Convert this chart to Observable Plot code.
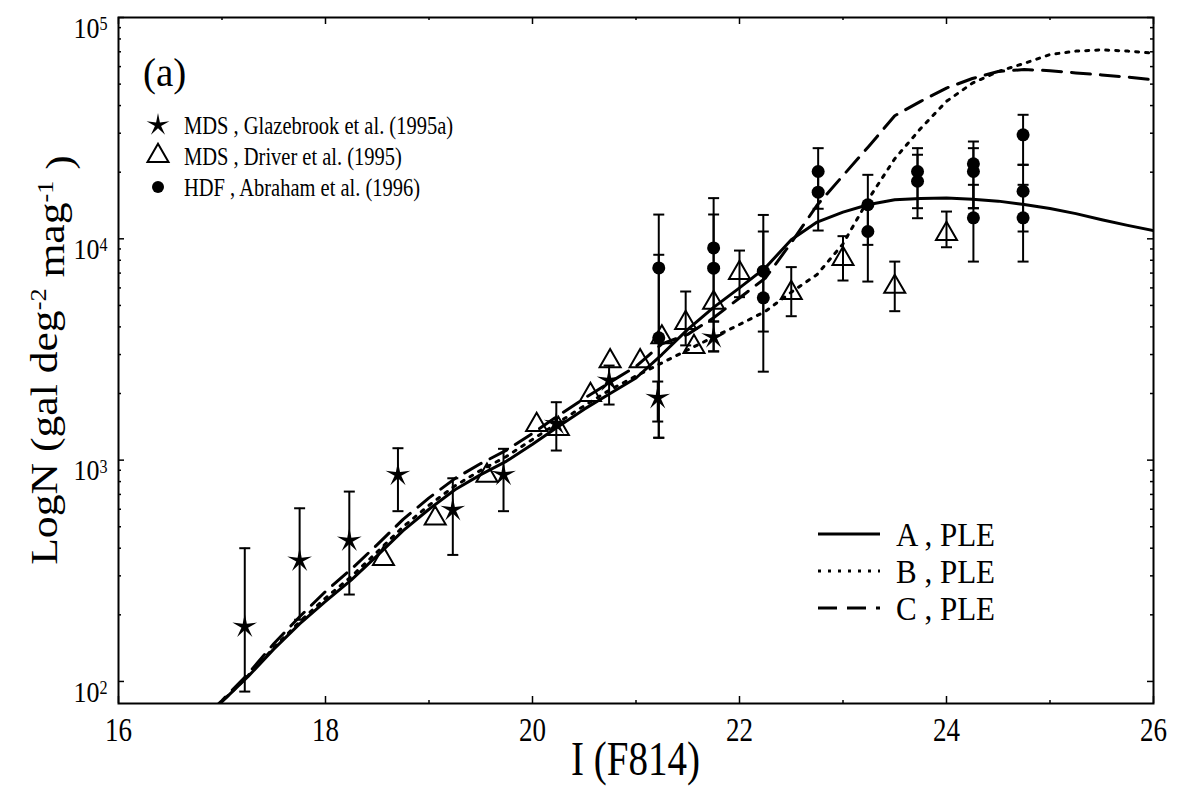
<!DOCTYPE html>
<html><head><meta charset="utf-8">
<script src="https://cdn.jsdelivr.net/npm/d3@7"></script>
<script src="https://cdn.jsdelivr.net/npm/@observablehq/plot@0.6"></script>
<style>
body{margin:0;background:#fff}
#chart{width:1181px;height:786px}
</style>
</head><body><div id="chart"></div>
<script>
// ---------- data ----------
const modelMag = [16.9,17.0,17.25,17.5,17.75,18.0,18.25,18.5,18.75,19.0,19.25,19.5,19.75,20.0,20.25,20.5,20.75,21.0,21.25,21.5,21.75,22.0,22.25,22.5,22.75,23.0,23.25,23.5,23.75,24.0,24.25,24.5,24.75,25.0,25.25,25.5,25.75,26.0];
const modelA = [74,81,105,140,182,230,288,370,480,600,735,860,990,1180,1420,1700,2000,2350,3000,3900,4900,6000,7400,9900,11900,13200,14300,15000,15200,15300,15100,14800,14300,13700,13000,12200,11500,10900];
const modelB = [73,81,106,142,186,238,298,385,500,625,765,900,1040,1240,1480,1760,2080,2400,2750,3150,3600,4100,4700,5740,6900,9490,15200,23000,31500,41800,50500,57000,62000,68000,70500,71400,70500,69000];
const modelC = [74,82,108,148,196,255,322,415,540,675,825,965,1110,1320,1590,1900,2250,2650,3350,3700,4400,5400,6650,9600,14200,19300,26200,36000,41800,48000,53000,57000,58200,57500,56200,55000,53800,52300];

// MDS, Glazebrook et al. (1995a) — stars
const starMag = [17.22,17.75,18.23,18.70,19.23,19.72,20.23,20.74,21.21,21.75];
const starN   = [177,352,433,859,596,859,1459,2290,1911,3590];
const starLo  = [90,190,247,588,373,588,1105,1783,1494,3100];
const starHi  = [400,606,721,1132,828,1125,1827,2675,2265,4230];

// MDS, Driver et al. (1995) — open triangles
const triMag = [18.56,19.06,19.56,20.04,20.25,20.56,20.75,21.04,21.25,21.48,21.56,21.75,22.0,22.5,23.0,23.5,24.0];
const triN   = [358,545,851,1443,1384,1973,2800,2800,3590,4170,3250,5140,7020,5700,8120,6070,10530];
const triLo  = [null,null,null,null,null,null,null,null,null,3300,null,null,5450,4470,6480,4710,9160];
const triHi  = [null,null,null,null,null,null,null,null,null,5780,null,null,8850,7450,10280,7890,13280];

// HDF, Abraham et al. (1996) — filled circles
const circMag = [21.22,21.22,21.75,21.75,22.23,22.23,22.76,22.76,23.24,23.24,23.72,23.72,24.26,24.26,24.26,24.74,24.74,24.74];
const circN   = [7390,3570,9100,7370,7140,5410,20140,16240,14250,10790,20140,18200,21810,20140,12440,29500,16400,12440];
const circLo  = [1262,1262,4230,3100,3810,2510,13670,10900,9390,6410,13750,12390,13750,13750,7890,21600,10790,7890];
const circHi  = [12870,8470,15270,12880,12820,10790,25680,20200,19460,14250,25680,23980,27520,25680,17540,36340,21600,17540];

const xMajor = [16,18,20,22,24,26];
const xMinor = [17,19,21,23,25];
const yMajor = [1e2,1e3,1e4,1e5];
const yMinor = [2,3,4,5,6,7,8,9].flatMap(k => [k*100, k*1000, k*10000]);

const modelNames = ["A , PLE","B , PLE","C , PLE"];
const pointNames = ["MDS , Glazebrook et al. (1995a)","MDS , Driver et al. (1995)","HDF , Abraham et al. (1996)"];
const panelTag = "(a)";
const xTitle = "I (F814)";

// ---------- build tables ----------
const W = 1181, H = 786;
const mL = 118, mR = 28, mT = 17, mB = 83;
const innerW = W - mL - mR, innerH = H - mT - mB;
const FONT = "'Liberation Serif', 'Times New Roman', serif";
const SY = 1.25; // the original figure's text is drawn tall and narrow

const rows = (mags, ns) => mags.map((m,i) => ({mag:m, n:ns[i]}));
const lineA = rows(modelMag, modelA), lineB = rows(modelMag, modelB), lineC = rows(modelMag, modelC);
const stars = starMag.map((m,i)=>({mag:m,n:starN[i],lo:starLo[i],hi:starHi[i]}));
const tris = triMag.map((m,i)=>({mag:m,n:triN[i],lo:triLo[i],hi:triHi[i]}));
const circs = circMag.map((m,i)=>({mag:m,n:circN[i],lo:circLo[i],hi:circHi[i]}));
const errRows = [...stars, ...tris, ...circs].filter(d => d.lo != null);
const caps = errRows.flatMap(d => [{mag:d.mag, v:d.lo},{mag:d.mag, v:d.hi}]);

// custom symbols
const capSymbol = {draw(ctx, size){const r=Math.sqrt(size/Math.PI); ctx.moveTo(-r,0); ctx.lineTo(r,0);}};
const starSymbol = {draw(ctx, size){
  const R = Math.sqrt(size/Math.PI), r = R*0.27;
  for (let i=0;i<10;i++){
    const a = -Math.PI/2 + i*Math.PI/5, rr = i%2 ? r : R;
    const x = rr*Math.cos(a), y = rr*Math.sin(a);
    i ? ctx.lineTo(x,y) : ctx.moveTo(x,y);
  }
  ctx.closePath();
}};

const lineStyles = [
  {strokeWidth:3},
  {strokeWidth:3, strokeDasharray:"3,7"},
  {strokeWidth:3, strokeDasharray:"19,10"}
];

const chart = Plot.plot({
  width: W, height: H,
  marginLeft: mL, marginRight: mR, marginTop: mT, marginBottom: mB,
  style: {fontFamily: FONT, background: "white", color: "black"},
  x: {domain: [16, 26]},
  y: {type: "log", domain: [79.5, 1e5]},
  marks: [
    // inward ticks on all four sides
    Plot.tickX(xMajor, {x: d=>d, insetTop: innerH-7, strokeWidth: 1.5}),
    Plot.tickX(xMajor, {x: d=>d, insetBottom: innerH-7, strokeWidth: 1.5}),
    Plot.tickX(xMinor, {x: d=>d, insetTop: innerH-3, strokeWidth: 1.5}),
    Plot.tickX(xMinor, {x: d=>d, insetBottom: innerH-3, strokeWidth: 1.5}),
    Plot.tickY(yMajor, {y: d=>d, insetRight: innerW-6, strokeWidth: 1.5}),
    Plot.tickY(yMajor, {y: d=>d, insetLeft: innerW-6, strokeWidth: 1.5}),
    Plot.tickY(yMinor, {y: d=>d, insetRight: innerW-3, strokeWidth: 1.5}),
    Plot.tickY(yMinor, {y: d=>d, insetLeft: innerW-3, strokeWidth: 1.5}),
    Plot.axisX({ticks: xMajor, tickSize: 0, tickPadding: 14, tickFormat: d=>String(d), label: null}),
    Plot.axisY({ticks: yMajor, tickSize: 0, tickPadding: 11, tickFormat: d=>String(Math.round(Math.log10(d))), label: null}),
    // models
    Plot.line(lineA, {x:"mag", y:"n", ...lineStyles[0], clip:true}),
    Plot.line(lineB, {x:"mag", y:"n", ...lineStyles[1], clip:true}),
    Plot.line(lineC, {x:"mag", y:"n", ...lineStyles[2], clip:true}),
    // error bars
    Plot.ruleX(errRows, {x:"mag", y1:"lo", y2:"hi", strokeWidth:2, clip:true}),
    Plot.dot(caps, {x:"mag", y:"v", symbol: capSymbol, r:5.5, stroke:"black", strokeWidth:2, clip:true}),
    // points
    Plot.dot(stars, {x:"mag", y:"n", symbol: starSymbol, r:13, fill:"black", stroke:"none"}),
    Plot.dot(tris, {x:"mag", y:"n", symbol:"triangle", r:7.8, fill:"none", stroke:"black", strokeWidth:2}),
    Plot.dot(circs, {x:"mag", y:"n", symbol:"circle", r:6.5, fill:"black", stroke:"none"}),
    Plot.frame({strokeWidth: 2})
  ]
});
document.getElementById("chart").appendChild(chart);

// ---------- post-process text styling ----------
const svg = d3.select(chart);
function stretch(node, sy){
  const t = node.getAttribute("transform");
  if (t) node.setAttribute("transform", `${t} scale(1,${sy})`);
  else {
    const x = +(node.getAttribute("x")||0), y = +(node.getAttribute("y")||0);
    node.setAttribute("transform", `translate(${x},${y}) scale(1,${sy}) translate(${-x},${-y})`);
  }
}
svg.selectAll('g[aria-label="x-axis tick label"]').attr("font-size", 27).attr("font-family", FONT);
svg.selectAll('g[aria-label="x-axis tick label"] text').attr("font-size", 27).style("font-size","27px").each(function(){ stretch(this, SY); });
svg.selectAll('g[aria-label="y-axis tick label"]').attr("font-size", 26).attr("font-family", FONT);
svg.selectAll('g[aria-label="y-axis tick label"] text').attr("font-size", 26).style("font-size","26px").attr("dy","0.36em").each(function(){
  const t = d3.select(this), e = t.text();
  t.text("10");
  t.append("tspan").attr("dy","-0.42em").attr("font-size","0.62em").text(e);
  stretch(this, 1.15);
});

// y-axis title with superscripts (stretched along its length)
const ytitle = svg.append("text")
  .attr("transform", `translate(57,${mT + innerH/2}) scale(1,1.18) rotate(-90)`)
  .attr("text-anchor","middle").attr("font-size", 37).attr("fill","black")
  .attr("font-family", FONT);
ytitle.append("tspan").text("LogN (gal deg");
ytitle.append("tspan").attr("dy","-0.5em").attr("font-size","0.6em").text("-2");
ytitle.append("tspan").attr("dy","0.5em").text(" mag");
ytitle.append("tspan").attr("dy","-0.5em").attr("font-size","0.6em").text("-1");
ytitle.append("tspan").attr("dy","0.5em").text(" )");

// x-axis title
svg.append("text").attr("transform", `translate(${mL + innerW/2},775) scale(1,${SY})`)
  .attr("text-anchor","middle").attr("font-size", 39).attr("fill","black")
  .attr("font-family", FONT).text(xTitle);

// top-left legend
const lg = svg.append("g").attr("font-family", FONT).attr("fill","black").attr("text-anchor","start");
lg.append("text").attr("transform", `translate(143,86) scale(1,1.05)`).attr("font-size",39).text(panelTag);
const symPaths = [d3.symbol(starSymbol, 12*12*Math.PI)(), d3.symbol(d3.symbolTriangle, 7.8*7.8*Math.PI)(), d3.symbol(d3.symbolCircle, 6*6*Math.PI)()];
const rowsY = [125,156,187];
pointNames.forEach((name,i)=>{
  const p = lg.append("path").attr("d", symPaths[i]).attr("transform",`translate(158,${rowsY[i]})`);
  if (i===1) p.attr("fill","none").attr("stroke","black").attr("stroke-width",2); else p.attr("fill","black");
  lg.append("text").attr("transform", `translate(184,${rowsY[i]}) scale(1,1.25)`).attr("dy","0.35em").attr("font-size",20.5).text(name);
});

// bottom-right legend for models
const lr = svg.append("g").attr("font-family", FONT).attr("text-anchor","start");
const lrY = [534,571,608];
modelNames.forEach((name,i)=>{
  const ln = lr.append("line").attr("x1",818).attr("x2",880).attr("y1",lrY[i]).attr("y2",lrY[i])
    .attr("stroke","black").attr("stroke-width",3);
  if (lineStyles[i].strokeDasharray) ln.attr("stroke-dasharray", lineStyles[i].strokeDasharray);
  lr.append("text").attr("transform", `translate(896,${lrY[i]}) scale(1,1.1)`).attr("dy","0.35em").attr("font-size",31).attr("fill","black").text(name);
});
</script>
</body></html>
